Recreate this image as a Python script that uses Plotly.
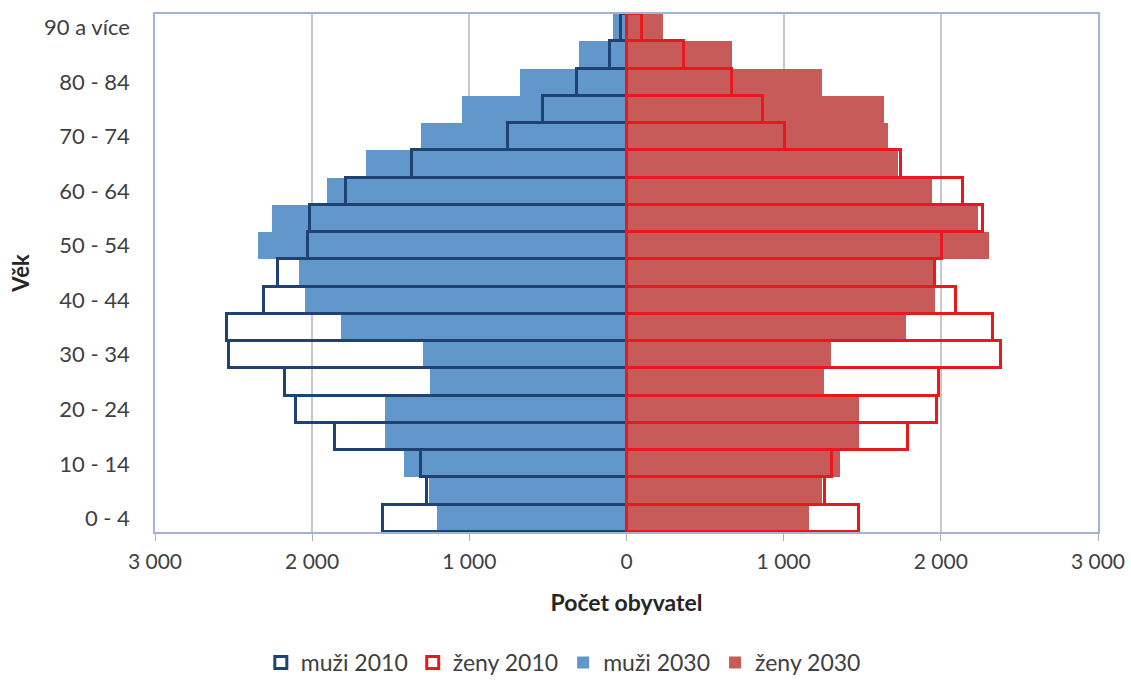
import plotly.graph_objects as go

ages = ["0 - 4", "5 - 9", "10 - 14", "15 - 19", "20 - 24", "25 - 29", "30 - 34", "35 - 39",
        "40 - 44", "45 - 49", "50 - 54", "55 - 59", "60 - 64", "65 - 69", "70 - 74",
        "75 - 79", "80 - 84", "85 - 89", "90 a více"]

muzi_2010 = [1550, 1268, 1308, 1855, 2100, 2170, 2529, 2543, 2306, 2215, 2028, 2013,
             1785, 1368, 752, 530, 317, 105, 35]
muzi_2030 = [1205, 1255, 1415, 1538, 1538, 1252, 1293, 1817, 2045, 2083, 2346, 2253,
             1906, 1659, 1310, 1049, 678, 302, 84]
zeny_2010 = [1481, 1263, 1305, 1793, 1977, 1990, 2383, 2333, 2096, 1962, 2009, 2270,
             2143, 1745, 1009, 871, 670, 366, 101]
zeny_2030 = [1163, 1242, 1358, 1477, 1477, 1257, 1301, 1778, 1962, 1956, 2306, 2238,
             1945, 1730, 1666, 1641, 1242, 670, 234]

label_ages = ["0 - 4", "10 - 14", "20 - 24", "30 - 34", "40 - 44", "50 - 54", "60 - 64",
              "70 - 74", "80 - 84", "90 a více"]
x_tickvals = [-3000, -2000, -1000, 0, 1000, 2000, 3000]
x_ticktext = ["3 000", "2 000", "1 000", "0", "1 000", "2 000", "3 000"]

FONT = "Lato"
fig = go.Figure()

fig.add_trace(go.Bar(y=ages, x=[-v for v in muzi_2030], orientation="h", name="muži 2030",
                     marker=dict(color="#6297CB", line=dict(width=0)), legendrank=3,
                     customdata=muzi_2030, hovertemplate="%{y}: %{customdata}<extra>muži 2030</extra>"))
fig.add_trace(go.Bar(y=ages, x=zeny_2030, orientation="h", name="ženy 2030",
                     marker=dict(color="#C65B59", line=dict(width=0)), legendrank=4))
fig.add_trace(go.Bar(y=ages, x=[-v for v in muzi_2010], orientation="h", name="muži 2010",
                     marker=dict(color="rgba(0,0,0,0)", line=dict(color="#1F4173", width=3)),
                     legendrank=1, customdata=muzi_2010,
                     hovertemplate="%{y}: %{customdata}<extra>muži 2010</extra>"))
fig.add_trace(go.Bar(y=ages, x=zeny_2010, orientation="h", name="ženy 2010",
                     marker=dict(color="rgba(0,0,0,0)", line=dict(color="#E8191E", width=3)),
                     legendrank=2))

fig.update_layout(
    width=1131, height=684,
    margin=dict(l=155, r=33, t=14, b=152),
    paper_bgcolor="white", plot_bgcolor="white",
    barmode="overlay", bargap=0,
    font=dict(family=FONT, size=22, color="#404040"),
    xaxis=dict(
        range=[-3000, 3000], tickvals=x_tickvals, ticktext=x_ticktext,
        automargin=False,
        showgrid=True, gridcolor="#C8C8C8", gridwidth=1.5,
        showline=True, linecolor="#A3B3D6", linewidth=1.5, mirror=True,
        ticks="outside", ticklen=7, tickcolor="#B0B0B0",
        ticklabelstandoff=3,
        zeroline=True, zerolinecolor="#7F8FB5", zerolinewidth=1.5,
        tickfont=dict(family=FONT, size=21, color="#404040"),
        title=dict(text="<b>Počet obyvatel</b>", font=dict(family=FONT, size=23, color="#262626"),
                   standoff=23),
    ),
    yaxis=dict(
        type="category", categoryorder="array", categoryarray=ages,
        range=[-0.5, 18.5], tickvals=label_ages, ticktext=label_ages,
        automargin=False,
        showgrid=False, showline=True, linecolor="#A3B3D6", linewidth=1.5, mirror=True,
        ticks="", ticklabelstandoff=19,
        tickfont=dict(family=FONT, size=22, color="#404040"),
        title=dict(text="<b>Věk</b>", font=dict(family=FONT, size=22, color="#262626"),
                   standoff=8),
    ),
    legend=dict(orientation="h", x=0.433, xanchor="center",
                yref="container", y=0.0, yanchor="bottom",
                font=dict(family=FONT, size=23, color="#404040"),
                itemwidth=30, traceorder="normal"),
    showlegend=True,
)

fig.write_html(
    "out.html",
    config={"displayModeBar": False},
    post_script="document.body.style.margin='0';document.body.style.overflow='hidden';",
)
